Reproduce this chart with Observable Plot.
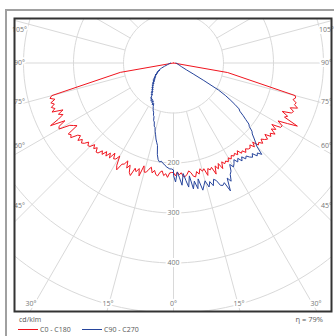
<!DOCTYPE html>
<html><head><meta charset="utf-8">
<script src="https://cdn.jsdelivr.net/npm/d3@7"></script>
<script src="https://cdn.jsdelivr.net/npm/@observablehq/plot@0.6"></script>
<style>
body{margin:0;background:#fff;overflow:hidden;font-family:"Open Sans",sans-serif}
#wrap{position:relative;width:334px;height:336px;overflow:hidden}
#outer{position:absolute;left:5px;top:9px;width:400px;height:400px;border-left:2px solid #a0a0a0;border-top:2px solid #a0a0a0}
#chart{position:absolute;left:0;top:0}
.lg{position:absolute;font-size:7px;color:#555;white-space:nowrap;line-height:9px}
.sw{display:inline-block;width:20px;height:1px;vertical-align:middle;margin-right:2px}
</style></head>
<body><div id="wrap"><div id="outer"></div><div id="chart"></div><div id="legend"></div></div>
<script>
// luminous intensity, cd/klm, by gamma angle (deg from nadir)
const c180 = [[90,0],[80,108],[75,252],[74,257],[73,248],[72,258],[71,252],[70,260],[69,254],[68,262],[67,240],[66,252],[65,244],[64,256],[63,276],[62,246],[61,262],[60,264],[59,242],[58,236],[57,230],[56,254],[55,250],[54,254],[53,240],[52,236],[51,246],[50,238],[49,244],[48,240],[47,232],[46,238],[45,236],[44,227],[43,234],[42,228],[41,236],[40,235],[39,226],[38,232],[37,222],[36,230],[35,220],[34,229],[33,215],[32,226],[31,224],[30,215],[29,234],[28,242],[27,227],[26,225],[25,216],[24,230],[23,222],[22,236],[21,241],[20,224],[19,230],[18,222],[17,236],[16,214],[15,226],[14,225],[13,218],[12,213],[11,224],[10,218],[9,226],[8,228],[7,220],[6,217],[5,226],[4,222],[3,229],[2,220],[1,219],[0,219]];
const c0 = [[0,219],[1,226],[2,218],[3,224],[4,220],[5,228],[6,228],[7,224],[8,218],[9,222],[10,230],[11,232],[12,222],[13,228],[14,218],[15,224],[16,220],[17,235],[18,222],[19,226],[20,222],[21,238],[22,222],[23,230],[24,220],[25,233],[26,220],[27,226],[28,222],[29,226],[30,219],[31,224],[32,218],[33,222],[34,218],[35,224],[36,217],[37,226],[38,223],[39,230],[40,224],[41,228],[42,229],[43,224],[44,233],[45,224],[46,236],[47,233],[48,240],[49,232],[50,238],[51,242],[52,232],[53,244],[54,239],[55,248],[56,236],[57,244],[58,232],[59,250],[60,251],[61,239],[62,258],[63,278],[64,247],[65,252],[66,238],[67,256],[68,259],[69,250],[70,264],[71,256],[72,258],[73,250],[74,254],[75,252],[80,110],[90,0]];
const c270 = [[90,6],[85,7],[80,9],[75,12],[70,19],[67,26],[65,30],[63,34],[62,31],[61,38],[60,35],[59,40],[58,37],[57,44],[56,40],[55,46],[54,43],[53,49],[52,45],[51,52],[50,48],[49,54],[48,50],[47,57],[46,53],[45,60],[44,56],[43,63],[42,60],[41,66],[40,63],[39,69],[38,66],[37,74],[36,70],[35,78],[34,75],[33,84],[32,82],[31,88],[30,84],[29,90],[28,86],[27,94],[26,90],[25,96],[24,100],[23,104],[22,106],[21,112],[20,114],[19,122],[18,124],[17,132],[16,134],[15,142],[14,148],[13,156],[12,162],[11,168],[10,186],[9,196],[8,200],[7,198],[6,202],[5,204],[4,208],[3,210],[2,212],[1,212],[0,214]];
const c90 = [[0,225],[1,238],[2,218],[3,230],[4,245],[5,222],[6,236],[7,250],[8,228],[9,255],[10,240],[11,256],[12,237],[13,261],[14,252],[15,244],[16,258],[17,248],[18,258],[19,246],[20,250],[21,262],[22,264],[23,260],[24,280],[25,254],[26,263],[27,250],[28,245],[29,232],[30,240],[31,235],[32,228],[33,236],[34,230],[35,239],[36,232],[37,240],[38,236],[39,242],[40,246],[41,240],[42,250],[43,246],[44,254],[45,236],[46,228],[47,220],[48,212],[49,208],[50,198],[51,194],[52,183],[53,174],[54,164],[55,160],[56,148],[57,135],[58,122],[59,105],[60,70],[61,45],[62,30],[65,18],[70,12],[75,9],[80,7],[85,6],[90,5]];

const seriesNames = ["C0 - C180", "C90 - C270"];
const seriesColors = ["#f0141e", "#27459c"];
const rings = [100, 200, 300, 400, 500];
const ringLabels = [200, 300, 400];
const rayAngles = d3.range(0, 360, 15);
const sideLabels = [45, 60, 75, 90, 105];
const bottomLabels = [0, 15, 30];
const efficiency = "η = 79%";
const unit = "cd/klm";

const rad = Math.PI / 180;
const X = [-318, 316], Y = [497, -89];   // cd units; y = depth below luminaire
const toPts = (arr, side, s) => arr.map(([g, v]) => ({s, x: side * v * Math.sin(g * rad), y: v * Math.cos(g * rad)}));
const curves = [
  ...toPts(c180, -1, seriesNames[0]), ...toPts(c0, 1, seriesNames[0]),
  ...toPts(c270, -1, seriesNames[1]), ...toPts(c90, 1, seriesNames[1])
];
const ringPts = rings.flatMap(v => d3.range(0, 362, 2).map(a => ({v, x: v * Math.sin(a * rad), y: v * Math.cos(a * rad)})));

// angle labels at frame edges
const inset = 10, reach = 286;
const sideTxt = sideLabels.flatMap(g => {
  let d = reach * Math.cos(g * rad) / Math.sin(g * rad);
  d = Math.max(d, Y[1] + 22);
  return [
    {x: X[0] + inset, y: d, t: g + "°", a: "start"},
    {x: X[1] - inset, y: d, t: g + "°", a: "end"}
  ];
});
const yb = Y[0] - 16;
const botTxt = bottomLabels.flatMap(g => {
  const h = Y[0] * Math.tan(g * rad);
  if (g === 0) return [{x: 0, y: yb, t: "0°", a: "middle"}];
  return [
    {x: -h + 2, y: yb, t: g + "°", a: "end"},
    {x: h - 2, y: yb, t: g + "°", a: "start"}
  ];
});
const angTxt = [...sideTxt, ...botTxt];

const grid = "#d9d9d9", lab = "#777";
const chart = Plot.plot({
  width: 334, height: 313,
  marginLeft: 14, marginRight: 3, marginTop: 18, marginBottom: 2,
  x: {domain: X, axis: null},
  y: {domain: Y, axis: null},
  color: {domain: seriesNames, range: seriesColors},
  style: {fontFamily: "Open Sans, sans-serif", background: "transparent", overflow: "visible"},
  marks: [
    Plot.line(ringPts, {x: "x", y: "y", z: "v", stroke: grid, strokeWidth: 1, clip: true}),
    Plot.link(rayAngles, {x1: a => 100 * Math.sin(a * rad), y1: a => 100 * Math.cos(a * rad), x2: a => 1500 * Math.sin(a * rad), y2: a => 1500 * Math.cos(a * rad), stroke: grid, strokeWidth: 1, clip: true}),
    Plot.text(ringLabels, {x: 0, y: d => d, text: d => String(d), fill: lab, stroke: "white", strokeWidth: 4, fontSize: 7}),
    Plot.text(angTxt, {x: "x", y: "y", text: "t", textAnchor: "a", fill: lab, stroke: "white", strokeWidth: 4, fontSize: 7}),
    Plot.line(curves, {x: "x", y: "y", z: "s", stroke: "s", strokeWidth: 1, clip: true}),
    Plot.frame({stroke: "#333", strokeWidth: 2})
  ]
});
document.getElementById("chart").appendChild(chart);

// legend below the plot
const lg = document.getElementById("legend");
const add = (html, style) => { const d = document.createElement("div"); d.className = "lg"; d.style.cssText = style; d.innerHTML = html; lg.appendChild(d); };
add(unit, "left:19px;top:315px;");
add(efficiency, "right:11px;top:315px;font-size:7.5px;");
seriesNames.forEach((n, i) => {
  add(`<span class="sw" style="background:${seriesColors[i]}"></span>${n}`, `left:${18 + i * 64}px;top:324.5px;`);
});
</script></body></html>
